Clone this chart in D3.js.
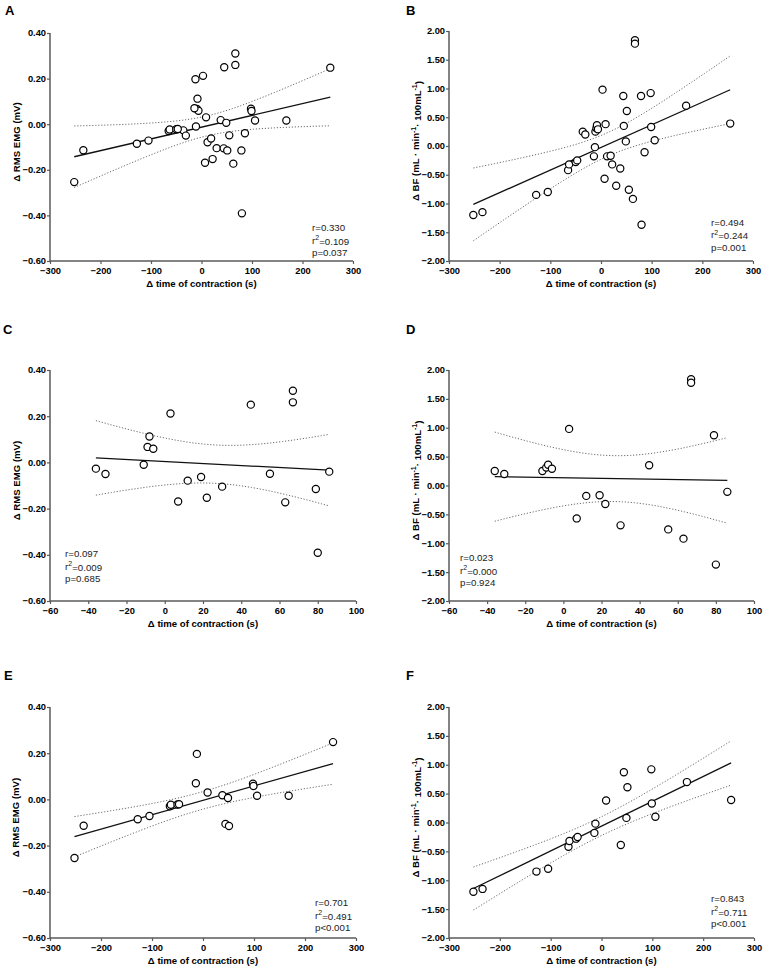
<!DOCTYPE html>
<html>
<head>
<meta charset="utf-8">
<script src="https://cdn.jsdelivr.net/npm/d3@7"></script>
<style>
  html, body { margin: 0; padding: 0; background: #fff; }
  svg { display: block; font-family: "Liberation Sans", Arial, sans-serif; }
</style>
</head>
<body>
<svg id="chart" width="766" height="975"></svg>
<script>
// ---- data ----
// subset 1 (panels C, D)
const timeCD = [-36, -31, -11, -9, -8, -6, 3, 7, 12, 19, 22, 30, 45, 55, 63, 67, 67, 79, 80, 86];
const emgCD  = [-0.027, -0.050, -0.010, 0.067, 0.112, 0.059, 0.212, -0.169, -0.079, -0.063, -0.153, -0.105, 0.250, -0.049, -0.173, 0.310, 0.260, -0.115, -0.391, -0.040];
const bfCD   = [0.25, 0.20, 0.25, 0.31, 0.36, 0.29, 0.98, -0.57, -0.18, -0.17, -0.32, -0.69, 0.35, -0.76, -0.92, 1.84, 1.78, 0.87, -1.37, -0.11];
// subset 2 (panels E, F)
const timeEF = [-252, -234, -128, -105, -65, -63, -50, -47, -14, -12, 9, 38, 44, 49, 51, 98, 99, 106, 168, 255];
const emgEF  = [-0.254, -0.114, -0.086, -0.072, -0.030, -0.023, -0.022, -0.021, 0.070, 0.197, 0.030, 0.018, -0.106, 0.006, -0.115, 0.068, 0.058, 0.016, 0.016, 0.248];
const bfEF   = [-1.20, -1.15, -0.85, -0.80, -0.42, -0.32, -0.28, -0.25, -0.18, -0.02, 0.38, -0.39, 0.87, 0.08, 0.61, 0.92, 0.33, 0.10, 0.70, 0.39];
// all subjects (panels A, B)
const timeAll = timeCD.concat(timeEF);
const emgAll  = emgCD.concat(emgEF);
const bfAll   = bfCD.concat(bfEF);

// tick labels
const emgTicks = [-0.6, -0.4, -0.2, 0, 0.2, 0.4];
const bfTicks  = [-2, -1.5, -1, -0.5, 0, 0.5, 1, 1.5, 2];
const timeTicksWide   = [-300, -200, -100, 0, 100, 200, 300];
const timeTicksNarrow = [-60, -40, -20, 0, 20, 40, 60, 80, 100];

// statistics shown in each panel (A..F)
const panelLabels = ["A", "B", "C", "D", "E", "F"];
const statR  = ["0.330", "0.494", "0.097", "0.023", "0.701", "0.843"];
const statR2 = ["0.109", "0.244", "0.009", "0.000", "0.491", "0.711"];
const statP  = ["p=0.037", "p=0.001", "p=0.685", "p=0.924", "p<0.001", "p<0.001"];

// ---- layout ----
const panels = [
  { x: timeAll, y: emgAll, xt: timeTicksWide,   yt: emgTicks, yType: "emg", box: [50, 353, 33, 261],  lab: [5, 15],   ytx: 17,  st: [312, 231] },
  { x: timeAll, y: bfAll,  xt: timeTicksWide,   yt: bfTicks,  yType: "bf",  box: [449, 753, 31, 261], lab: [406, 15], ytx: 416, st: [711, 225.5] },
  { x: timeCD,  y: emgCD,  xt: timeTicksNarrow, yt: emgTicks, yType: "emg", box: [50, 356, 370, 601], lab: [3, 334],  ytx: 17,  st: [65, 557] },
  { x: timeCD,  y: bfCD,   xt: timeTicksNarrow, yt: bfTicks,  yType: "bf",  box: [449, 754, 370, 601],lab: [406, 334],ytx: 416, st: [460, 561] },
  { x: timeEF,  y: emgEF,  xt: timeTicksWide,   yt: emgTicks, yType: "emg", box: [50, 356, 707, 938], lab: [4, 680],  ytx: 16,  st: [315, 906] },
  { x: timeEF,  y: bfEF,   xt: timeTicksWide,   yt: bfTicks,  yType: "bf",  box: [449, 754, 707, 938],lab: [406, 680],ytx: 416, st: [711, 902] }
];

const tCrit = { 18: 2.101, 38: 2.024 };

function regression(xs, ys) {
  const n = xs.length;
  const mx = d3.mean(xs), my = d3.mean(ys);
  let sxx = 0, sxy = 0;
  for (let i = 0; i < n; i++) { sxx += (xs[i] - mx) ** 2; sxy += (xs[i] - mx) * (ys[i] - my); }
  const b = sxy / sxx, a = my - b * mx;
  let sse = 0;
  for (let i = 0; i < n; i++) sse += (ys[i] - (a + b * xs[i])) ** 2;
  const s = Math.sqrt(sse / (n - 2));
  const t = tCrit[n - 2] || 2.0;
  return { a, b, s, t, n, mx, sxx };
}

const svg = d3.select("#chart");
const axisColor = "#5a5a5a";

panels.forEach((p, i) => {
  const [x0, x1, y0, y1] = p.box;
  const xs = d3.scaleLinear().domain([p.xt[0], p.xt[p.xt.length - 1]]).range([x0, x1]);
  const ys = d3.scaleLinear().domain([p.yt[0], p.yt[p.yt.length - 1]]).range([y1, y0]);
  const g = svg.append("g");

  // panel label
  g.append("text").attr("x", p.lab[0]).attr("y", p.lab[1])
    .attr("font-size", 13).attr("font-weight", "bold").attr("fill", "#000").text(panelLabels[i]);

  // axes
  const xAxis = g.append("g").attr("transform", `translate(0,${y1})`)
    .call(d3.axisBottom(xs).tickValues(p.xt).tickSize(3).tickPadding(1).tickFormat(d3.format("d")));
  const yAxis = g.append("g").attr("transform", `translate(${x0},0)`)
    .call(d3.axisLeft(ys).tickValues(p.yt).tickSize(3).tickPadding(1).tickFormat(d3.format(".2f")));
  [xAxis, yAxis].forEach(ax => {
    ax.select(".domain").attr("stroke", axisColor).attr("stroke-width", 1.5);
    ax.selectAll(".tick line").attr("stroke", axisColor).attr("stroke-width", 1.2);
    ax.selectAll(".tick text").attr("fill", "#000").attr("font-size", 9.3).attr("font-weight", "bold")
      .attr("font-family", "Liberation Sans, Arial, sans-serif");
  });
  yAxis.selectAll(".domain").attr("d", `M-0,${y1}V${y0}`);
  xAxis.selectAll(".domain").attr("d", `M${x0},0H${x1}`);
  xAxis.selectAll(".tick text").attr("dy", "0.95em");

  // x title
  g.append("text").attr("x", (x0 + x1) / 2).attr("y", y1 + 25.5)
    .attr("text-anchor", "middle").attr("font-size", 9.6).attr("font-weight", "bold")
    .text("\u0394 time of contraction (s)");

  // y title
  const yt = g.append("text")
    .attr("transform", `translate(${p.ytx},${(y0 + y1) / 2 - 5}) rotate(-90)`)
    .attr("text-anchor", "middle").attr("dy", "0.35em")
    .attr("font-size", 9.6).attr("font-weight", "bold");
  if (p.yType === "emg") {
    yt.text("\u0394 RMS EMG (mV)");
  } else {
    yt.append("tspan").text("\u0394 BF (mL \u00b7 min");
    yt.append("tspan").attr("font-size", 7).attr("dy", "-0.5em").text("-1");
    yt.append("tspan").attr("dy", "0.5em").text("\u00b7 100mL");
    yt.append("tspan").attr("font-size", 7).attr("dy", "-0.5em").text("-1");
    yt.append("tspan").attr("dy", "0.5em").text(")");
  }

  // regression + 95% CI
  const r = regression(p.x, p.y);
  const xmin = d3.min(p.x), xmax = d3.max(p.x);
  const grid = d3.range(0, 61).map(k => xmin + (xmax - xmin) * k / 60);
  const band = (sign) => grid.map(x => {
    const yhat = r.a + r.b * x;
    const h = r.t * r.s * Math.sqrt(1 / r.n + (x - r.mx) ** 2 / r.sxx);
    return [x, yhat + sign * h];
  });
  const line = d3.line().x(d => xs(d[0])).y(d => ys(d[1]));
  [1, -1].forEach(sg => {
    g.append("path").attr("d", line(band(sg))).attr("fill", "none")
      .attr("stroke", "#6a6a6a").attr("stroke-width", 1).attr("stroke-dasharray", "1.2,1.8");
  });
  g.append("path").attr("d", line([[xmin, r.a + r.b * xmin], [xmax, r.a + r.b * xmax]]))
    .attr("fill", "none").attr("stroke", "#111").attr("stroke-width", 1.3);

  // points
  g.selectAll("circle.pt").data(p.x.map((x, k) => [x, p.y[k]])).join("circle")
    .attr("class", "pt").attr("cx", d => xs(d[0])).attr("cy", d => ys(d[1])).attr("r", 3.6)
    .attr("fill", "#fff").attr("stroke", "#000").attr("stroke-width", 1.2);

  // stats text
  const st = g.append("g").attr("font-size", 9.7).attr("fill", "#222");
  st.append("text").attr("x", p.st[0]).attr("y", p.st[1]).text("r=" + statR[i]);
  const t2 = st.append("text").attr("x", p.st[0]).attr("y", p.st[1] + 12.5);
  t2.append("tspan").text("r");
  t2.append("tspan").attr("font-size", 7).attr("dy", "-0.45em").text("2");
  t2.append("tspan").attr("dy", "0.45em").text("=" + statR2[i]);
  st.append("text").attr("x", p.st[0]).attr("y", p.st[1] + 25).text(statP[i]);
});
</script>
</body>
</html>
